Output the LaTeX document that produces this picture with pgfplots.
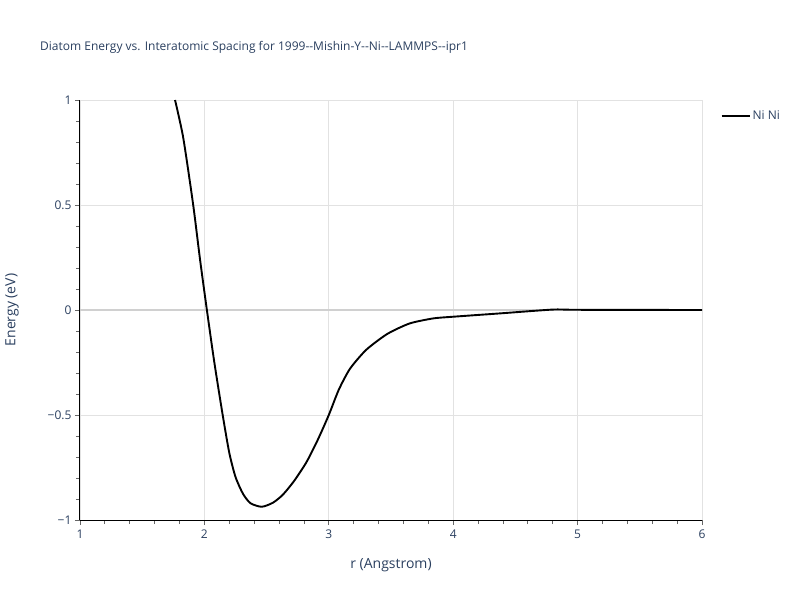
\documentclass[border=0pt]{standalone}
\usepackage{fontspec}
\setmainfont{Open Sans}
\usepackage{pgfplots}
\pgfplotsset{compat=1.18}
\definecolor{txt}{HTML}{2A3F5F}
\definecolor{grd}{HTML}{E2E2E2}
\definecolor{zl}{HTML}{D0D0D0}
\begin{document}
\begin{tikzpicture}
\begin{axis}[
  at={(0pt,0pt)}, anchor=south west,
  scale only axis, width=622pt, height=420pt,
  xmin=1, xmax=6, ymin=-1, ymax=1,
  xtick={1,2,3,4,5,6}, ytick={-1,-0.5,0,0.5,1},
  yticklabels={−1,−0.5,0,0.5,1},
  minor x tick num=4, minor y tick num=4,
  tick align=outside,
  major tick length=5pt, minor tick length=4pt,
  every tick/.style={gray!80!black, line width=0.8pt},
  xmajorgrids, ymajorgrids,
  major grid style={grd, line width=0.8pt},
  axis x line*=bottom, axis y line*=left,
  axis line style={black, line width=1pt, -},
  /pgf/number format/assume math mode=true,
  tick label style={text=txt, font=\fontsize{12}{14}\selectfont},
  xticklabel style={yshift=-1pt},
  xlabel={r (Angstrom)}, ylabel={Energy (eV)},
  label style={text=txt, font=\fontsize{14}{16}\selectfont},
  xlabel style={yshift=-13pt},
  ylabel style={yshift=22pt},
  legend style={at={(1.025,0.985)}, anchor=north west, draw=none, fill=none,
    font=\fontsize{12}{14}\selectfont, text=txt},
  legend image code/.code={\draw[#1] (0pt,0pt) -- (28pt,0pt);},
  legend cell align=left,
  clip=true,
]
\draw[zl, line width=1.6pt] (axis cs:1,0) -- (axis cs:6,0);
\addplot[black, line width=1.9pt, smooth, tension=0.4] coordinates {
(1.764,1.0) (1.83,0.82) (1.91,0.5) (1.965,0.24) (2.02,0.0) (2.08,-0.25) (2.147,-0.5)
(2.2,-0.68) (2.25,-0.795) (2.31,-0.875) (2.37,-0.92) (2.46,-0.937) (2.55,-0.918)
(2.63,-0.88) (2.72,-0.815) (2.82,-0.725) (2.91,-0.62) (3.0,-0.5) (3.08,-0.38)
(3.17,-0.28) (3.30,-0.19) (3.47,-0.114) (3.65,-0.064) (3.84,-0.040) (4.0,-0.032)
(4.38,-0.016) (4.8,0.002) (5.0,0.001) (6.0,0.0)
};
\addlegendentry{Ni Ni}
\end{axis}
\node[anchor=base west, text=txt, font=\fontsize{12}{14}\selectfont, inner sep=0] at (-40pt,469pt) {Diatom Energy vs. Interatomic Spacing for 1999{-}{-}Mishin-Y{-}{-}Ni{-}{-}LAMMPS{-}{-}ipr1};
\pgfresetboundingbox
\path[use as bounding box] (-80pt,-80pt) rectangle (720pt,520pt);
\end{tikzpicture}
\end{document}
